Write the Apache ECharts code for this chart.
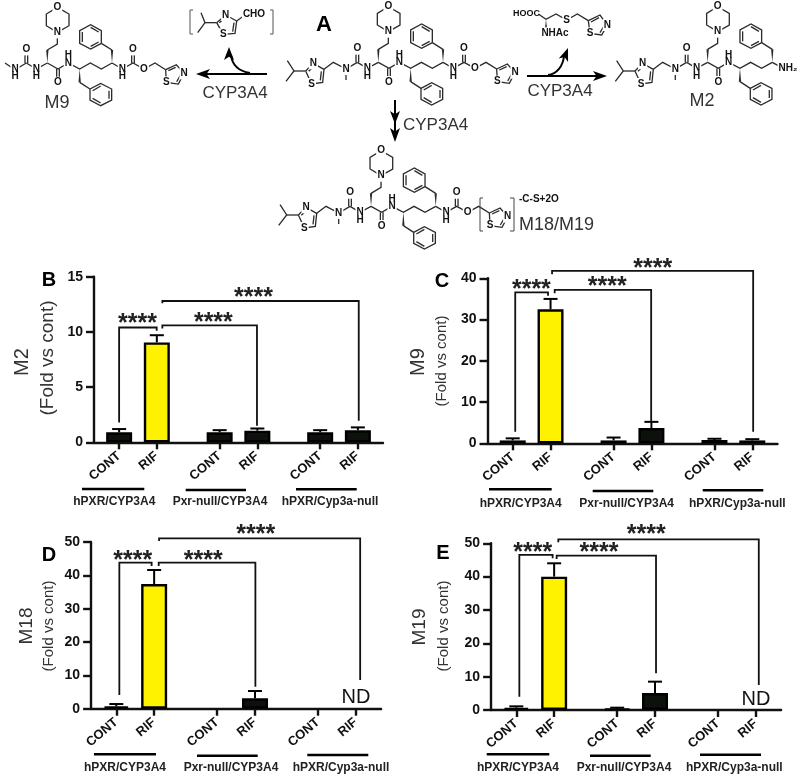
<!DOCTYPE html>
<html>
<head>
<meta charset="utf-8">
<title>CYP3A4 metabolites</title>
<script src="https://cdn.jsdelivr.net/npm/echarts@6/dist/echarts.min.js"></script>
<style>
    html, body { margin: 0; padding: 0; background: #fff; }
    #main { width: 800px; height: 777px; }
</style>
</head>
<body>
<div id="main"></div>
<script>
const categories = ['CONT', 'RIF', 'CONT', 'RIF', 'CONT', 'RIF'];
const slots = [0, 3, 8, 11, 16, 19];
const groupNames = ['hPXR/CYP3A4', 'Pxr-null/CYP3A4', 'hPXR/Cyp3a-null'];

// bar height and top of the error bar
const m2Values = [0.9, 9.05, 0.9, 1.05, 0.9, 1.1];
const m2Tops = [1.2, 9.7, 1.1, 1.25, 1.1, 1.35];
const m9Values = [0.7, 32.5, 0.7, 3.7, 0.8, 0.7];
const m9Tops = [1.2, 35, 1.4, 5.2, 1.1, 1.0];
const m18Values = [0.7, 37.4, null, 3.1, null, null];
const m18Tops = [1.4, 41.6, null, 5.3, null, null];
const m19Values = [0.7, 40, 0.4, 5.1, null, null];
const m19Tops = [1.1, 44, 0.7, 8.5, null, null];

// significance brackets: x1, y1, yTop, x2, y2, star x, star y
const m2Brackets = [
    [0, 1.8, 10.4, 2.99, 10.1, 1.46, 11.1],
    [3.44, 10.3, 10.6, 10.97, 1.5, 7.5, 11.2],
    [3.44, 12.6, 12.8, 19.07, 1.96, 10.7, 13.4]
];
const m9Brackets = [
    [0.2, 2.8, 36.6, 2.8, 35.8, 1.48, 38.1],
    [3.33, 36.4, 37.2, 10.98, 5.25, 7.5, 38.9],
    [3.12, 41, 41.8, 19.07, 2.8, 11.1, 43.3]
];
const m18Brackets = [
    [0.24, 4.1, 43.8, 2.8, 42.8, 1.3, 45.6],
    [3.36, 42.8, 43.8, 11.03, 6.6, 6.9, 45.6],
    [3.39, 50.3, 51.1, 19.34, 8.6, 11.06, 53.4]
];
const m19Brackets = [
    [0.24, 4, 46.5, 2.88, 45.5, 1.3, 48.3],
    [3.2, 45.3, 46.3, 11.08, 11, 6.56, 48.3],
    [3.33, 50.3, 51.2, 19.23, 7.5, 10.3, 53.8]
];

const FONT = '"Liberation Sans", Arial, sans-serif';
const INK = '#111';

const panels = [
    {
        letter: 'B', letterAt: [49, 280], values: m2Values, tops: m2Tops, brackets: m2Brackets, max: 15, interval: 5,
        grid: { left: 94, top: 276.7, width: 289, height: 165.6 },
        title: 'M2', titleAt: [22, 362], titleSize: 20, sub: [48, 358], subSize: 19,
        lines: [[82, 144.3, 489], [185.7, 246, 490], [296, 356.7, 489.3]], labelY: 501.7, labelX: [114.3, 220, 330]
    },
    {
        letter: 'C', letterAt: [442, 281], values: m9Values, tops: m9Tops, brackets: m9Brackets, max: 40, interval: 10,
        grid: { left: 487.5, top: 278.3, width: 290, height: 165 },
        title: 'M9', titleAt: [418, 362], titleSize: 20, sub: [442, 361], subSize: 15,
        lines: [[489, 551.7, 489.3], [592.7, 653.3, 491], [702.7, 763.3, 490.3]], labelY: 503.3, labelX: [520.7, 626.7, 737.3]
    },
    {
        letter: 'D', letterAt: [49, 555], values: m18Values, tops: m18Tops, brackets: m18Brackets, max: 50, interval: 10, nd: 3.3,
        grid: { left: 91.1, top: 542, width: 290, height: 166.7 },
        title: 'M18', titleAt: [27, 626], titleSize: 19, sub: [49, 626], subSize: 15,
        lines: [[94, 156, 754.3], [197, 257.7, 755.7], [307.3, 368.3, 755]], labelY: 767.3, labelX: [125, 231, 341]
    },
    {
        letter: 'E', letterAt: [443, 553], values: m19Values, tops: m19Tops, brackets: m19Brackets, max: 50, interval: 10, nd: 3.3,
        grid: { left: 491.1, top: 543.3, width: 290, height: 166.7 },
        title: 'M19', titleAt: [420, 627], titleSize: 19, sub: [444, 626], subSize: 15,
        lines: [[486.7, 549.3, 754.3], [590, 650.7, 755.7], [700, 761, 754.7]], labelY: 767.3, labelX: [518, 624, 734.3]
    }
];

const grids = [], xAxes = [], yAxes = [], series = [], graphics = [];

function text(str, x, y, font, fill, rotation, align) {
    graphics.push({
        type: 'text', x: x, y: y, rotation: rotation || 0, z: 10,
        style: { text: str, font: font, fill: fill || INK, textAlign: align || 'center', textVerticalAlign: 'middle' }
    });
}

function line(points, width, color) {
    graphics.push({
        type: 'polyline', z: 5,
        shape: { points: points },
        style: { stroke: color || INK, lineWidth: width, fill: null }
    });
}

panels.forEach((p, idx) => {
    grids.push(p.grid);
    xAxes.push({
        type: 'value', gridIndex: idx, min: -2, max: 21,
        splitLine: { show: false },
        axisLine: { lineStyle: { color: INK, width: 2.4 } },
        axisTick: { show: true, customValues: slots, length: 7, lineStyle: { color: INK, width: 2.4 } },
        axisLabel: {
            customValues: slots, rotate: 40, margin: 12, color: INK,
            fontFamily: FONT, fontSize: 13, fontWeight: 'bold',
            formatter: (v) => categories[slots.indexOf(v)]
        }
    });
    yAxes.push({
        type: 'value', gridIndex: idx, min: 0, max: p.max, interval: p.interval,
        splitLine: { show: false },
        axisLine: { show: true, onZero: false, lineStyle: { color: INK, width: 2.4 } },
        axisTick: { show: true, length: 8, lineStyle: { color: INK, width: 2.4 } },
        axisLabel: { color: INK, margin: 11, fontFamily: FONT, fontSize: 14, fontWeight: 'bold' }
    });
    series.push({
        type: 'bar', xAxisIndex: idx, yAxisIndex: idx, barWidth: 26, silent: true,
        data: p.values.map((v, i) => ({
            value: [slots[i], v],
            itemStyle: {
                color: (i === 1) ? '#fff200' : '#0c110b',
                borderColor: '#000', borderWidth: 2.4
            }
        }))
    });
    // error bars, upper side only
    series.push({
        type: 'custom', xAxisIndex: idx, yAxisIndex: idx, silent: true, z: 1,
        data: p.tops.map((t, i) => [slots[i], p.values[i], t]),
        renderItem: (params, api) => {
            if (isNaN(api.value(2))) return null;
            const a = api.coord([api.value(0), api.value(1)]);
            const b = api.coord([api.value(0), api.value(2)]);
            return {
                type: 'group',
                children: [
                    { type: 'line', shape: { x1: a[0], y1: a[1], x2: b[0], y2: b[1] }, style: { stroke: '#000', lineWidth: 2 } },
                    { type: 'line', shape: { x1: b[0] - 7, y1: b[1], x2: b[0] + 7, y2: b[1] }, style: { stroke: '#000', lineWidth: 2 } }
                ]
            };
        }
    });
    // brackets with their stars
    series.push({
        type: 'custom', xAxisIndex: idx, yAxisIndex: idx, silent: true, z: 3, clip: false,
        data: p.brackets,
        renderItem: (params, api) => {
            const a = api.coord([api.value(0), api.value(1)]);
            const t1 = api.coord([api.value(0), api.value(2)]);
            const t2 = api.coord([api.value(3), api.value(2)]);
            const b = api.coord([api.value(3), api.value(4)]);
            const s = api.coord([api.value(5), api.value(6)]);
            return {
                type: 'group',
                children: [
                    {
                        type: 'polyline',
                        shape: { points: [a, t1, t2, b] },
                        style: { stroke: INK, lineWidth: 1.8, fill: null }
                    },
                    {
                        type: 'text', x: s[0], y: s[1] + 4,
                        style: { text: '****', font: 'bold 25px ' + FONT, fill: '#222', textAlign: 'center', textVerticalAlign: 'middle' }
                    }
                ]
            };
        }
    });
    if (p.nd) {
        series.push({
            type: 'custom', xAxisIndex: idx, yAxisIndex: idx, silent: true, clip: false,
            data: [[19, p.nd]],
            renderItem: (params, api) => {
                const c = api.coord([api.value(0), api.value(1)]);
                return {
                    type: 'text', x: c[0], y: c[1],
                    style: { text: 'ND', font: '20px ' + FONT, fill: INK, textAlign: 'center', textVerticalAlign: 'middle' }
                };
            }
        });
    }

    text(p.letter, p.letterAt[0], p.letterAt[1], 'bold 20px ' + FONT, '#000');
    text(p.title, p.titleAt[0], p.titleAt[1], p.titleSize + 'px ' + FONT, '#333', Math.PI / 2);
    text('(Fold vs cont)', p.sub[0], p.sub[1], p.subSize + 'px ' + FONT, '#333', Math.PI / 2);
    p.lines.forEach((l, i) => {
        line([[l[0], l[2]], [l[1], l[2]]], 2.4, '#000');
        text(groupNames[i], p.labelX[i], p.labelY, 'bold 12px ' + FONT, '#222');
    });
});

// structures in panel A, in coordinates three times the pixel size
const BOND = '#2a2a2a';
function molecule(dx, dy, paths, wedges, atoms) {
    const px = (q) => [dx + q[0] / 3, dy + q[1] / 3];
    paths.forEach((path) => line(path.map(px), 1.3, BOND));
    wedges.forEach((w) => {
        graphics.push({
            type: 'polygon', z: 5,
            shape: { points: [px(w[0]), px([w[1][0] - 3.5, w[1][1]]), px([w[1][0] + 3.5, w[1][1]])] },
            style: { fill: BOND }
        });
    });
    atoms.forEach((a) => {
        const q = px([a[1], a[2]]);
        graphics.push({
            type: 'text', x: q[0], y: q[1], z: 8,
            style: {
                text: a[0], font: 'bold 10px ' + FONT, fill: '#111', textAlign: 'center', textVerticalAlign: 'middle',
                backgroundColor: a[3] ? null : '#fff', padding: a[3] ? 0 : 1
            }
        });
    });
}

const isopropylThiazole = [
    [[82, 182], [102, 213], [78, 244]], [[102, 213], [137, 213]],
    [[137, 213], [160, 190], [192, 208], [188, 247], [155, 252], [137, 213]],
    [[146, 214], [160, 200]], [[184, 214], [181, 241]]
];
const isopropylThiazoleAtoms = [['N', 160, 190], ['S', 155, 252]];
const methylAmine = [[[192, 208], [220, 187], [258, 207]], [[258, 207], [258, 240]], [[258, 207], [292, 187]]];
const urea = [[[292, 187], [322, 205], [355, 187]], [[288, 187], [288, 150]], [[296, 187], [296, 150]]];
const ureaAtoms = [['O', 292, 146], ['N', 322, 205], ['H', 322, 228, true]];
const backbone = [
    [[355, 148], [385, 130], [385, 95]],
    [[385, 95], [352, 75], [352, 40], [385, 20], [420, 40], [420, 75], [385, 95]],
    [[355, 187], [387, 205], [418, 187], [452, 205], [484, 187], [517, 205], [549, 187]],
    [[383, 205], [383, 243]], [[391, 205], [391, 243]],
    [[452, 245], [483, 265]],
    [[483, 265], [515, 248], [548, 265], [548, 298], [515, 315], [483, 298], [483, 265]],
    [[491, 270], [515, 256]], [[540, 270], [540, 294]], [[515, 307], [491, 293]],
    [[549, 148], [517, 128]],
    [[517, 128], [485, 145], [452, 128], [452, 90], [485, 72], [517, 90], [517, 128]],
    [[509, 124], [485, 137]], [[460, 124], [460, 94]], [[485, 80], [509, 94]]
];
const backboneWedges = [[[355, 187], [355, 148]], [[452, 205], [452, 245]], [[549, 187], [549, 148]]];
const backboneAtoms = [['N', 385, 95], ['O', 385, 20], ['O', 387, 246], ['N', 418, 187], ['H', 418, 165, true]];
const carbamate = [
    [[549, 187], [580, 205], [612, 187], [645, 205], [678, 187], [710, 207]],
    [[608, 187], [608, 150]], [[616, 187], [616, 150]],
    [[710, 207], [742, 192], [765, 218], [748, 250], [712, 245], [710, 207]],
    [[718, 210], [740, 200]], [[755, 222], [743, 243]]
];
const carbamateAtoms = [['N', 580, 205], ['H', 580, 228, true], ['O', 612, 146], ['O', 645, 205], ['N', 765, 218], ['S', 712, 245]];

// parent
molecule(260, 0,
    [...isopropylThiazole, ...methylAmine, ...urea, ...backbone, ...carbamate], backboneWedges,
    [...isopropylThiazoleAtoms, ['N', 258, 207], ...ureaAtoms, ...backboneAtoms, ...carbamateAtoms]);
// M9
molecule(-71, 0.7,
    [[[228, 187], [258, 207], [292, 187]], ...urea, ...backbone, ...carbamate], backboneWedges,
    [['N', 258, 207], ['H', 258, 228, true], ...ureaAtoms, ...backboneAtoms, ...carbamateAtoms]);
// M2
molecule(589.3, 0,
    [...isopropylThiazole, ...methylAmine, ...urea, ...backbone, [[549, 187], [582, 205]]], backboneWedges,
    [...isopropylThiazoleAtoms, ['N', 258, 207], ...ureaAtoms, ...backboneAtoms, ['NH\u2082', 596, 206]]);
// M18/M19
molecule(252.7, 144,
    [...isopropylThiazole, ...methylAmine, ...urea, ...backbone, ...carbamate], backboneWedges,
    [...isopropylThiazoleAtoms, ['N', 258, 207], ...ureaAtoms, ...backboneAtoms, ...carbamateAtoms]);
// leaving aldehyde, zoom coordinates of the left crop
molecule(0, 0,
    [
        [[603, 38], [615, 68], [593, 98]], [[615, 68], [650, 68]],
        [[650, 68], [677, 45], [710, 63], [705, 100], [670, 103], [650, 68]],
        [[658, 68], [675, 53]], [[702, 68], [698, 95]], [[710, 63], [735, 45]]
    ], [],
    [['N', 677, 45], ['S', 670, 103], ['CHO', 762, 42]]);
// leaving thiol fragment
molecule(520, 0,
    [
        [[55, 42], [78, 58], [108, 42], [140, 60], [172, 42], [205, 62]],
        [[205, 62], [240, 45], [262, 75], [245, 105], [210, 100], [205, 62]],
        [[213, 66], [237, 53]], [[252, 78], [240, 98]]
    ],
    [[[78, 58], [78, 90]]],
    [['S', 140, 60], ['N', 262, 75], ['S', 210, 100], ['NHAc', 105, 100]]);
text('HOOC', 513, 14, 'bold 9px ' + FONT, '#111', 0, 'left');

// square brackets
line([[193, 10], [190, 10], [190, 34], [193, 34]], 1, '#555');
line([[270, 10], [273, 10], [273, 34], [270, 34]], 1, '#555');
line([[483, 198], [480, 198], [480, 231], [483, 231]], 1, '#444');
line([[510, 198], [514, 198], [514, 231], [510, 231]], 1, '#444');
text('-C-S+2O', 519, 199, 'bold 10px ' + FONT, '#111', 0, 'left');

// arrows
function arrowHead(tip, angle, len, half) {
    const c = Math.cos(angle), s = Math.sin(angle);
    graphics.push({
        type: 'polygon', z: 6,
        shape: {
            points: [
                tip,
                [tip[0] - c * len - s * half, tip[1] - s * len + c * half],
                [tip[0] - c * len * 0.75, tip[1] - s * len * 0.75],
                [tip[0] - c * len + s * half, tip[1] - s * len - c * half]
            ]
        },
        style: { fill: '#000' }
    });
}
line([[267, 74], [204, 74]], 2, '#000');
arrowHead([196, 74], Math.PI, 14, 5);
graphics.push({ type: 'bezierCurve', z: 5, shape: { x1: 250, y1: 73, x2: 231, y2: 55, cpx1: 238, cpy1: 71, cpx2: 232, cpy2: 64 }, style: { stroke: '#000', lineWidth: 2, fill: null } });
arrowHead([229, 47], -Math.PI / 2, 13, 5);
line([[527, 76], [598, 76]], 2, '#000');
arrowHead([607, 76], 0, 14, 5);
graphics.push({ type: 'bezierCurve', z: 5, shape: { x1: 548, y1: 75, x2: 564, y2: 56, cpx1: 557, cpy1: 74, cpx2: 563, cpy2: 66 }, style: { stroke: '#000', lineWidth: 2, fill: null } });
arrowHead([568, 48], -Math.PI / 2.6, 13, 5);
line([[395, 100], [395, 132]], 2, '#000');
arrowHead([395, 124], Math.PI / 2, 13, 5);
arrowHead([395, 142], Math.PI / 2, 14, 5);

text('A', 324, 25, 'bold 22px ' + FONT, '#000');
text('CYP3A4', 235, 93, '17px ' + FONT, '#333');
text('CYP3A4', 560, 91, '17px ' + FONT, '#333');
text('CYP3A4', 403, 125, '17px ' + FONT, '#333', 0, 'left');
text('M9', 57, 103, '18px ' + FONT, '#333');
text('M2', 702, 101, '18px ' + FONT, '#333');
text('M18/M19', 519, 225, '18px ' + FONT, '#333', 0, 'left');

const myChart = echarts.init(document.getElementById('main'), null, { renderer: 'canvas' });
myChart.setOption({
    animation: false,
    backgroundColor: '#fff',
    textStyle: { fontFamily: FONT },
    grid: grids,
    xAxis: xAxes,
    yAxis: yAxes,
    series: series,
    graphic: graphics
});
</script>
</body>
</html>
